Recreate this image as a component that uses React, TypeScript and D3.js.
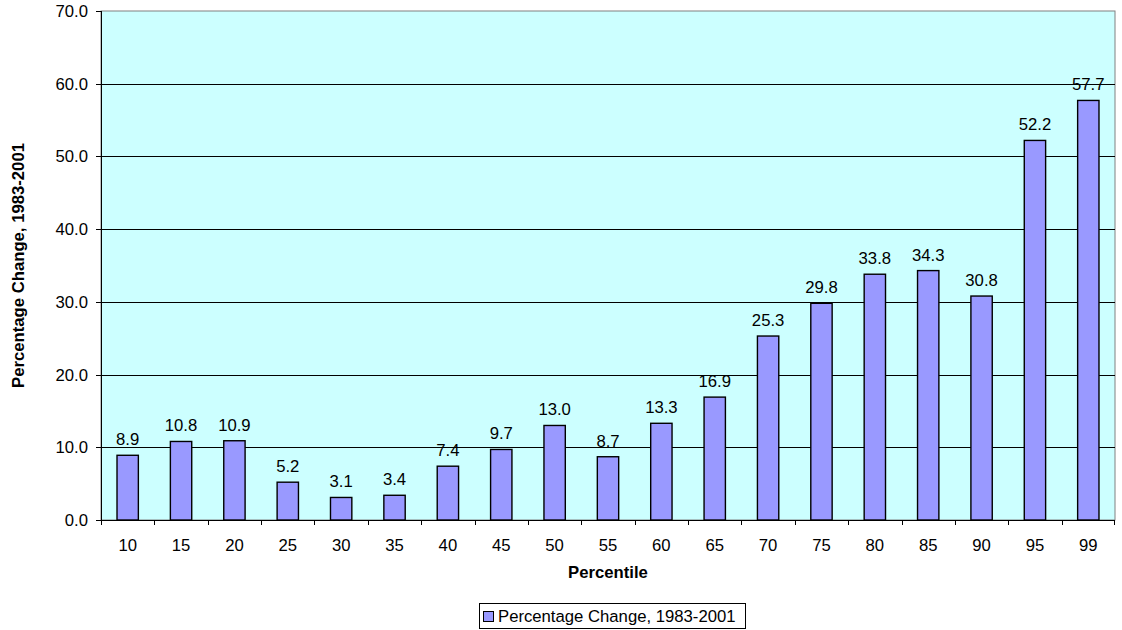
import React from "react";
import * as d3 from "d3";

const categories = ["10","15","20","25","30","35","40","45","50","55","60","65","70","75","80","85","90","95","99"];
const values = [8.9,10.8,10.9,5.2,3.1,3.4,7.4,9.7,13.0,8.7,13.3,16.9,25.3,29.8,33.8,34.3,30.8,52.2,57.7];
const yTicks = [0,10,20,30,40,50,60,70];
const seriesName = "Percentage Change, 1983-2001";
const xTitle = "Percentile";
const yTitle = "Percentage Change, 1983-2001";

export default function App() {
  const W = 1122, H = 630;
  const left = 101, right = 1115, top = 11, bottom = 520;
  const x = d3.scaleBand<string>().domain(categories).range([left, right]).paddingInner(0.6).paddingOuter(0.3);
  const xb = d3.scaleBand<string>().domain(categories).range([left, right]);
  const y = d3.scaleLinear().domain([0, 70]).range([bottom, top]);
  const font = "Arial, 'Liberation Sans', sans-serif";
  const fs = 16.7;
  return (
    <svg width={W} height={H} style={{ position: "absolute", left: 0, top: 0 }} fontFamily={font}>
      <rect x={left} y={top} width={right - left} height={bottom - top} fill="#CCFFFF" stroke="#808080" strokeWidth={1} />
      {yTicks.filter(t => t > 0 && t < 70).map(t => (
        <line key={t} x1={left} x2={right} y1={Math.round(y(t)) + 0.5} y2={Math.round(y(t)) + 0.5} stroke="#000" strokeWidth={1} />
      ))}
      {categories.map((c, i) => {
        const bx = x(c)!;
        const bw = x.bandwidth();
        const yt = y(values[i]);
        return (
          <g key={c}>
            <rect x={bx} y={yt} width={bw} height={bottom - yt} fill="#9999FF" stroke="#000" strokeWidth={1.4} />
            <text x={bx + bw / 2} y={yt - 10} textAnchor="middle" fontSize={fs} fill="#000">{values[i].toFixed(1)}</text>
          </g>
        );
      })}
      <line x1={left + 0.5} x2={left + 0.5} y1={top} y2={bottom} stroke="#000" />
      <line x1={left} x2={right} y1={bottom + 0.5} y2={bottom + 0.5} stroke="#000" />
      {yTicks.map(t => (
        <g key={t}>
          <line x1={left - 5} x2={left} y1={Math.round(y(t)) + 0.5} y2={Math.round(y(t)) + 0.5} stroke="#000" />
          <text x={88} y={y(t)} dy="0.36em" textAnchor="end" fontSize={fs} fill="#000">{t.toFixed(1)}</text>
        </g>
      ))}
      {categories.map(c => (
        <line key={"t" + c} x1={Math.round(xb(c)!) + 0.5} x2={Math.round(xb(c)!) + 0.5} y1={bottom} y2={bottom + 5} stroke="#000" />
      ))}
      <line x1={right - 0.5} x2={right - 0.5} y1={bottom} y2={bottom + 5} stroke="#000" />
      {categories.map(c => (
        <text key={"l" + c} x={xb(c)! + xb.bandwidth() / 2} y={551} textAnchor="middle" fontSize={fs} fill="#000">{c}</text>
      ))}
      <text x={(left + right) / 2} y={578} textAnchor="middle" fontSize={fs} fontWeight="bold" fill="#000">{xTitle}</text>
      <text transform={`translate(24, ${(top + bottom) / 2}) rotate(-90)`} textAnchor="middle" fontSize={fs} fontWeight="bold" fill="#000">{yTitle}</text>
      <rect x={479.5} y={603.5} width={266} height={25} fill="#fff" stroke="#000" />
      <rect x={483.5} y={611.5} width={10} height={10} fill="#9999FF" stroke="#000" />
      <text x={498} y={622} fontSize={fs} fill="#000">{seriesName}</text>
    </svg>
  );
}
